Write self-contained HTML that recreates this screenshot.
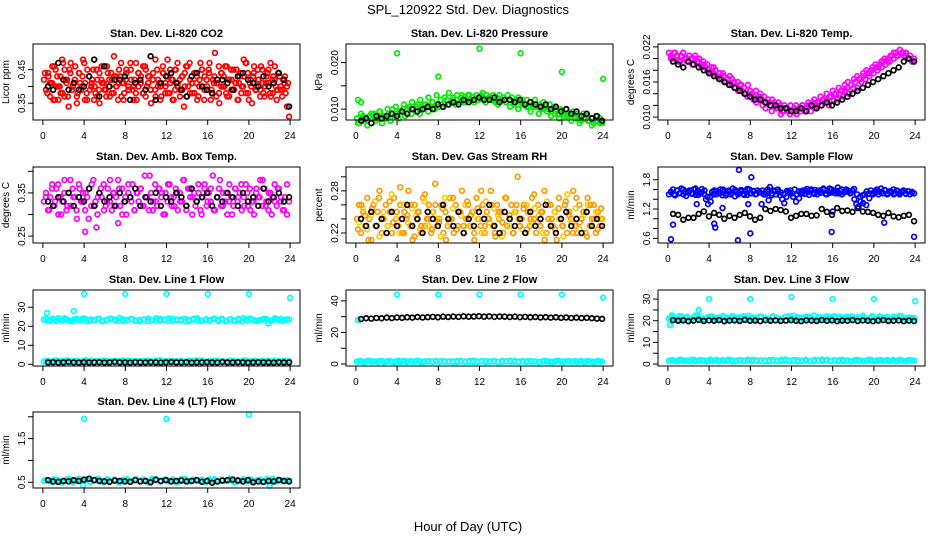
<!DOCTYPE html>
<html><head><meta charset="utf-8"><style>
body{margin:0;background:#fff}
svg{display:block;font-family:"Liberation Sans",sans-serif}
</style></head><body>
<svg id="chart" width="936" height="540" viewBox="0 0 936 540">
<text x="468" y="14" text-anchor="middle" font-size="13">SPL_120922  Std. Dev. Diagnostics</text>
<text x="468" y="531" text-anchor="middle" font-size="13">Hour of Day (UTC)</text>
</svg>
<script>
// ---- data ----
const xTicks = [0,4,8,12,16,20,24];
const co2Red = [0.42,0.39,0.44,0.37,0.41,0.46,0.40,0.36,0.43,0.38,0.45,0.41,0.34,0.47,0.40,0.42,0.37,0.44,0.39,0.48,0.41,0.36,0.43,0.40,0.45,0.38,0.42,0.35,0.46,0.41,0.39,0.44,0.37,0.42,0.49,0.40,0.36,0.43,0.41,0.38,0.45,0.40,0.47,0.39,0.42,0.36,0.44,0.41,0.38,0.46,0.40,0.43,0.35,0.42,0.39,0.45,0.41,0.37,0.44,0.40,0.48,0.38,0.42,0.36,0.45,0.41,0.39,0.43,0.34,0.46,0.40,0.42,0.38,0.44,0.41,0.37,0.47,0.40,0.43,0.39,0.45,0.36,0.42,0.50,0.41,0.38,0.44,0.40,0.46,0.37,0.42,0.39,0.45,0.41,0.36,0.43,0.40,0.48,0.38,0.44,0.41,0.35,0.46,0.40,0.42,0.39,0.45,0.37,0.43,0.41,0.47,0.38,0.42,0.36,0.44,0.40,0.39,0.43,0.34,0.31];
const co2Red2 = [0.39,0.43,0.41,0.36,0.45,0.40,0.38,0.47,0.42,0.37,0.44,0.40,0.46,0.38,0.41,0.43,0.36,0.45,0.39,0.42,0.40,0.37,0.44,0.41,0.39,0.46,0.42,0.38,0.43,0.40,0.45,0.37,0.41,0.44,0.39,0.42,0.36,0.47,0.40,0.43,0.38,0.45,0.41,0.39,0.44,0.37,0.42,0.40,0.46,0.38,0.43,0.41,0.36,0.45,0.40,0.42,0.39,0.44,0.37,0.47,0.41,0.38,0.43,0.40,0.45,0.36,0.42,0.44,0.39,0.41,0.37,0.46,0.40,0.43,0.38,0.42,0.45,0.39,0.41,0.36,0.44,0.40,0.47,0.38,0.42,0.43,0.39,0.45,0.37,0.41,0.40,0.44,0.38,0.42,0.46,0.39,0.43,0.37,0.41,0.40];
const co2Red3 = [0.44,0.38,0.41,0.46,0.36,0.43,0.40,0.48,0.37,0.42,0.45,0.39,0.41,0.35,0.44,0.40,0.47,0.38,0.43,0.41,0.36,0.45,0.39,0.42,0.46,0.37,0.40,0.44,0.38,0.43,0.41,0.47,0.36,0.42,0.39,0.45,0.40,0.38,0.44,0.41,0.46,0.37,0.43,0.39,0.42,0.48,0.40,0.36,0.44,0.41,0.38,0.45,0.42,0.39,0.47,0.37,0.43,0.40,0.46,0.38,0.41,0.44,0.36,0.42,0.45,0.39,0.40,0.47,0.38,0.43,0.41,0.35,0.44,0.40,0.46,0.37,0.42,0.39,0.45,0.41,0.38,0.43,0.47,0.36,0.40,0.44,0.39,0.42,0.46,0.38,0.41,0.45,0.37,0.43,0.40,0.44,0.39,0.42,0.38,0.41];
const co2Black = [0.40,0.39,0.47,0.42,0.39,0.41,0.39,0.40,0.43,0.48,0.37,0.46,0.40,0.42,0.42,0.43,0.36,0.41,0.42,0.39,0.49,0.36,0.41,0.43,0.44,0.41,0.39,0.37,0.43,0.44,0.40,0.39,0.38,0.42,0.42,0.41,0.39,0.43,0.44,0.42,0.41,0.40,0.43,0.40,0.41,0.44,0.42,0.34];
const pressGreenMilli = [8,7,9,7.5,8,6.5,8.5,7,9,7.5,8,9.5,7,8.5,8,9,7.5,10,8.5,9,8,9.5,10,8.5,9,10.5,9,10,9.5,11,9,10.5,10,11,9.5,10.5,11.5,10,11,10.5,12,10.5,11,12,11,11.5,12.5,11,12,11.5,13,11.5,12,13,12,12.5,11.5,13,12,12.5,13.5,12,13,12.5,12,13,11.5,12.5,13,12,12.5,11.5,13,12,12.5,11,12,12.5,11.5,12,11,12,10.5,11.5,11,12,10.5,11,10,11.5,10.5,10,11,9.5,10.5,10,9,10,9.5,8.5,10,9,8.5,9.5,8,9,8.5,7.5,9,8,8.5,7.5,8,7,8.5,7.5,8,7];
const pressGreen2Milli = [7,8.5,7.5,9,8,9.5,8.5,10,9,10.5,9.5,11,10,11.5,10.5,12,11,12.5,11.5,13,12,12.5,13.5,12,13,12.5,11.5,13,12.5,12,13,11.5,12.5,12,11,12,11.5,10.5,11.5,10,11,10.5,9.5,10.5,9,10,9.5,8.5,9,8,9,8.5,7.5,8.5,7,8,7.5,6.5,7.5,7];
const pressOutHours = [0.2,0.5,4,8,12,16,20,24];
const pressOutMilli = [12,11.5,22,17,23,22,18,16.5];
const pressBlackMilli = [7.5,8,7,8.5,8,8.5,9,8.5,9.5,9,10,9.5,10,10.5,10,11,10.5,11,11.5,11,12,11.5,12,12.5,12,12,12.5,11.5,12,12,11.5,12,11,11.5,11,10.5,11,10,10.5,9.5,10,9,9.5,8.5,9,8,8.5,7.5];
const tempMagMilli = [21,20.5,20,21,20.5,19.5,20.5,21,20,19.5,20.5,20,19,20.5,19.5,20,19,19.5,18.5,19,18,18.5,17.5,18,17,17.5,16.5,17,16,16.5,17,15.5,16,15,16,15.5,14.5,15,14,15.5,14.5,14,13.5,14.5,13,14,13,13.5,12.5,13,12,13,12.5,11.5,12.5,12,11,12,11.5,11,12,11,11.5,10.5,11.5,11,12,11,11.5,12,11,12.5,11.5,12,12.5,12,13,12.5,13,12,13.5,13,14,13,14,14.5,13.5,14.5,15,14,15.5,15,16,15,16.5,16,17,16.5,17.5,17,18,17.5,18.5,18,19,18.5,19.5,19,20,19.5,20.5,20,21,20.5,21.5,21,20.5,21,20,20.5,19.5,20];
const tempMag2Milli = [20,21,20.5,19.5,21,20,20.5,19,20,19.5,18.5,19,18,17.5,18.5,17,16.5,17.5,16,15.5,16.5,15,14.5,15.5,14,13.5,14.5,13,12.5,13.5,12,11.5,12.5,11,12,11.5,10.5,11,11.5,10.5,11,12,11.5,12,11,12.5,12,13,12.5,13.5,13,14,13.5,14.5,14,15,14.5,15.5,16,15.5,16.5,17,16.5,17.5,18,17.5,18.5,19,18.5,19.5,20,19.5,20.5,21,20.5,21.5,21,20.5,20,19.5];
const tempBlackMilli = [19.5,19,18.5,19.5,19,18.5,18,17.5,17,16.5,16,15.5,15,14.5,14,13.5,13,13,12.5,12,12,11.5,11.5,11,11,11.5,11,12,11.5,12,12.5,12,12.5,13,13.5,14,14.5,15,15.5,16,16.5,17,17.5,18,18.5,19.5,20,19.5];
const ambMagCenti = [33,35,31,34,37,32,36,30,34,33,38,31,35,32,36,34,29,37,33,35,31,34,36,32,38,33,30,35,34,37,32,36,33,31,35,34,38,32,36,33,30,35,34,37,31,35,33,36,32,39,34,31,35,33,37,32,36,34,30,35,33,37,32,34,36,31,35,33,38,32,36,34,30,35,33,37,31,34,36,32,35,33,39,31,34,36,32,35,33,30,37,34,32,36,33,35,31,34,37,32,36,33,30,35,34,38,32,36,33,31,35,34,37,32,36,33,31,34,30,33];
const ambMag2Centi = [34,31,36,33,37,30,35,32,38,34,31,36,33,35,29,37,32,34,36,31,33,38,35,32,36,30,34,37,33,31,35,36,32,34,39,31,33,36,35,30,37,34,32,35,33,38,31,36,34,32,35,30,37,33,36,31,34,38,32,35,33,30,36,34,37,32,35,31,33,36,34,38,32,35,30,33,36,34,31,37];
const ambOutHours = [4.1,5.2,7.3];
const ambOutCenti = [26,27,28];
const ambBlackCenti = [33,32,34,33,35,32,34,33,36,32,35,33,34,32,35,33,34,36,32,34,33,35,32,34,33,35,34,32,36,33,34,35,32,34,33,35,34,32,35,33,34,32,36,33,34,35,33,34];
const rhOrangeCenti = [24,26,22,25,23,27,24,21,26,23,25,28,22,24,26,23,25,22,27,24,23,26,22,25,24,28,23,21,26,24,25,22,27,23,24,26,22,25,29,23,24,26,22,25,23,27,24,22,26,23,25,28,22,24,26,23,25,21,27,24,23,26,22,25,24,28,23,22,26,24,25,22,27,23,24,26,22,25,30,23,24,26,22,25,23,27,24,22,26,23,25,28,22,24,26,23,25,21,27,24,23,26,22,25,24,28,23,22,26,24,25,22,27,23,24,26,22,25,23,24];
const rhOrange2Centi = [23.5,25.5,22.5,24.5,26.5,21.5,25,23,27.5,24,22,26,23.5,25.5,24.5,22.5,26.5,23,25,24,21.5,27,23.5,25.5,22.5,24.5,26,23,25,24,22,26.5,23.5,25.5,24.5,21.5,27,23,25,24,22.5,26,23.5,25.5,24.5,22,26.5,23,25,24,21.5,27.5,23.5,25.5,22.5,24.5,26,23,25,24];
const rh3Centi = [22.5,26,24.5,21,25.5,23,27,24,22,26.5,23.5,25,28.5,22,24.5,26,21.5,25,23,27.5,24,22.5,26,23.5,25.5,21,24,27,22.5,25,23,26.5,24.5,22,25.5,28,23,24,26,21.5,25,23.5,27,24.5,22,26,23,25.5,22.5,24,27.5,23.5,25,21,26,24,22.5,25.5,23,26.5,24.5,22,27,23.5,25,21.5,26,24,22.5,25.5];
const rhBlackCenti = [24,23,25,23,24,22,25,23,24,26,23,24,22,25,24,23,26,24,23,25,22,24,23,25,24,26,23,22,25,24,23,24,22,25,23,24,26,23,22,24,25,23,24,22,25,23,24,23];
const flowBlueCenti = [150,155,160,148,158,152,162,150,156,154,158,152,160,149,157,153,161,151,140,130,145,155,158,150,154,160,148,156,152,158,150,162,146,155,153,159,151,157,149,160,152,156,150,158,154,130,150,155,160,165,152,158,150,156,148,140,132,145,155,158,152,160,150,156,154,158,151,161,149,157,153,159,150,158,155,162,151,157,153,160,156,152,164,158,150,154,160,156,152,158,140,130,125,135,148,150,156,152,158,150,154,160,155,162,152,158,150,156,154,160,152,157,150,155,158,152,156,150,155,152];
const flowBlue2Centi = [155,150,158,153,160,147,156,151,162,149,154,158,145,135,150,157,152,160,148,155,153,159,150,156,149,161,152,157,151,155,158,150,138,148,156,160,154,150,157,153,145,135,142,152,158,155,160,151,156,153,159,150,162,154,157,152,160,155,158,153,161,150,145,132,128,142,152,157,150,155,159,152,156,150,158,153,157,151,156,154];
const flowOutHours = [0.3,0.5,2.8,4.5,4.6,5.3,6.8,6.9,7.8,8,8.1,15.9,16,21,23.9];
const flowOutVals = [0.58,0.88,1.3,0.9,0.82,1.22,0.56,2.0,1.3,0.7,1.85,0.73,1.15,0.92,0.63];
const flowBlack = [1.10,1.08,0.98,1.02,1.02,1.10,1.15,1.05,1.12,1.08,1.00,1.06,1.02,1.08,1.12,1.05,0.98,1.02,1.20,1.16,1.20,1.18,1.15,1.02,1.06,1.10,1.10,1.06,1.07,1.20,1.14,1.08,1.22,1.16,1.17,1.14,1.22,1.15,1.14,1.12,1.08,1.06,1.12,1.05,1.03,1.06,1.08,0.95];
const line1High = [23.5,23,24,22.8,23.6,24.2,23.1,22.7,23.8,23.3,24,22.9,23.4,23.9,22.6,23.2,24.1,23.5,22.8,23.7,23.1,24,22.9,23.4,23.6,22.7,23.3,24.2,23,23.5,22.8,23.9,23.2,23.6,22.6,23.4,24,23.1,22.9,23.7,23.3,24.1,22.8,23.5,23,23.8,22.7,23.4,24.2,23.1,23.6,22.9,23.3,24,21.5,23.2,23.7,23.9,23.4,23.6];
const line1High2 = [24,22.9,23.5,24.3,23,23.7,22.8,23.9,23.3,24.1,22.7,23.6,23.2,24,22.9,23.5,23.8,23.1,24.2,22.8,23.4,23.9,23.1,22.7,23.6,24,23.2,22.9,23.8,23.4,24.1,22.8,23.5,23.1,23.9,22.7,23.6,24.2,23,23.4,22.9,23.8,23.3,24,22.8,23.5,23.1,23.9,22.6,23.7,24.1,23.2,22.9,23.5,23.8,23,24.2,23.3,22.8,23.6];
const lowFlow = [1.5,1.8,1.3,2,1.6,1.4,1.9,1.5,1.7,1.2,2.1,1.6,1.4,1.8,1.5,1.9,1.3,1.7,1.6,2,1.4,1.8,1.5,1.7,1.3,1.9,1.6,1.5,2.1,1.4,1.7,1.8,1.5,1.6,1.3,1.9,1.7,1.5,2,1.4,1.6,1.8,1.5,1.7,1.3,1.9,1.6,1.4,2,1.5,1.7,1.8,1.6,1.4,1.9,1.5,1.7,1.3,1.8,1.6];
const lowFlow2 = [1.7,1.4,1.9,1.5,1.6,2,1.3,1.8,1.5,1.7,1.4,1.9,1.6,1.5,2,1.3,1.7,1.8,1.4,1.6,1.9,1.5,1.7,1.3,1.8,1.6,1.4,2,1.5,1.7,1.8,1.3,1.6,1.9,1.5,1.4,1.7,2.1,1.6,1.5,1.8,1.4,1.9,1.6,1.3,1.7,1.8,1.5,1.6,1.9,1.4,1.7,1.5,1.8,1.6,1.3,1.9,1.5,1.7,1.6];
const line1OutHours = [0.4,3,4,8,12,16,20,24];
const line1OutVals = [27,28,37,37,37,37,37,35];
const line1Black = [1,1.1,0.9,1,1.2,1,0.9,1.1,1,1,1.1,0.9,1,1.2,1,1,0.9,1.1,1,1,1.1,1,0.9,1,1.2,1,1,1.1,0.9,1,1,1.1,1,0.9,1.2,1,1,1.1,1,0.9,1,1.1,1,1,0.9,1.1,1,1];
const line2OutHours = [0.2,4,8,12,16,20,24];
const line2OutVals = [28,44,44,44,44,44,42];
const line2Black = [28.5,29,28.8,29.2,29,29.4,29.1,29.5,29.3,29.6,29.4,29.8,29.5,29.7,29.9,29.6,30,29.8,30.1,29.9,30.2,30,30.1,30.3,30,30.2,29.9,30.1,30,29.8,30,29.7,29.9,29.6,29.8,29.5,29.7,29.4,29.6,29.3,29.5,29.2,29.4,29.1,29.3,29,28.8,28.6];
const line3High = [21,21.8,20.5,22,21.3,20.8,21.6,22.3,20.6,21.2,21.9,20.9,21.5,22.1,20.7,21.4,21.7,20.8,22.2,21.1,21.6,20.6,21.9,21.3,20.9,22,21.4,20.7,21.8,21.2,22.3,20.8,21.5,21.1,21.9,20.6,21.7,21.3,22.1,20.9,21.5,21.8,20.7,21.2,22,21.4,20.8,21.6,21.1,22.2,20.9,21.7,21.3,20.6,21.9,21.4,22.1,20.8,21.5,21.2];
const line3High2 = [21.5,20.7,22.1,21,21.8,20.6,22.4,21.3,20.9,21.7,22,21.2,20.8,21.9,21.4,22.2,20.7,21.6,21.1,22.3,20.9,21.5,21.8,21.2,20.6,22,21.4,20.8,21.7,22.2,21,21.6,20.9,21.9,21.3,22.4,20.7,21.5,21.1,21.8,22.1,20.8,21.4,21.9,21.2,20.6,21.7,22.3,21,21.5,20.9,22,21.3,21.8,20.7,21.6,22.2,21.1,21.4,21];
const line3OutHours = [0.2,0.4,3,4,8,12,16,20,24];
const line3OutVals = [18,22.5,25,30,30,31,30,30,29];
const line3Black = [20.3,20,20.2,19.8,20.1,20.4,19.9,20.2,20,20.3,19.8,20.1,20.2,19.9,20.4,20,20.1,19.8,20.3,20,20.2,19.9,20.1,20.3,20,19.8,20.2,20.1,19.9,20.3,20,20.2,19.8,20.1,20,20.3,19.9,20.2,20,19.8,20.1,20.3,19.9,20,20.2,19.8,20.1,19.9];
const line4Cyan = [0.53,0.55,0.51,0.56,0.52,0.54,0.57,0.5,0.55,0.53,0.56,0.52,0.54,0.58,0.51,0.55,0.53,0.56,0.5,0.54,0.57,0.52,0.55,0.53,0.56,0.51,0.54,0.57,0.52,0.55,0.53,0.56,0.5,0.54,0.58,0.52,0.55,0.53,0.56,0.51,0.54,0.57,0.52,0.55,0.53,0.56,0.5,0.54,0.57,0.52,0.55,0.53,0.56,0.51,0.54,0.58,0.52,0.55,0.53,0.54];
const line4Cyan2 = [0.55,0.52,0.57,0.53,0.5,0.56,0.54,0.52,0.58,0.53,0.55,0.51,0.56,0.54,0.52,0.57,0.53,0.55,0.5,0.56,0.54,0.52,0.57,0.53,0.55,0.51,0.58,0.54,0.52,0.56,0.53,0.55,0.5,0.57,0.54,0.52,0.56,0.53,0.55,0.51,0.57,0.54,0.52,0.56,0.53,0.58,0.5,0.55,0.54,0.52,0.56,0.53,0.55,0.51,0.57,0.54,0.52,0.56,0.53,0.55];
const line4OutHours = [4,12,20,3.9,22];
const line4OutVals = [1.95,1.95,2.05,0.43,0.42];
const line4Black = [0.55,0.52,0.51,0.53,0.52,0.55,0.53,0.56,0.58,0.55,0.53,0.52,0.51,0.54,0.53,0.52,0.51,0.55,0.52,0.53,0.5,0.56,0.53,0.55,0.52,0.53,0.54,0.52,0.53,0.55,0.51,0.53,0.49,0.52,0.54,0.55,0.56,0.54,0.52,0.55,0.5,0.52,0.51,0.53,0.52,0.55,0.53,0.52];

// ---- drawing ----
const NS = "http://www.w3.org/2000/svg";
const svg = document.getElementById('chart');
const COLS = [33, 346, 658], ROWS = [44, 167, 290, 412], W = 267, H = 76;
function mk(tag, attrs, parent){ const e = document.createElementNS(NS, tag); for (const k in attrs) e.setAttribute(k, attrs[k]); parent.appendChild(e); return e; }
function spread(n, t0, t1){ const a=[]; for(let i=0;i<n;i++) a.push(t0 + i*(t1-t0)/(n-1)); return a; }

function panel(p){
  const L = COLS[p.col], T = ROWS[p.row];
  const g = mk('g', {}, svg);
  
  
  const xs = h => L + (h + 0.96) / 25.92 * W;
  const ys = v => T + H - (v - p.ymin) / (p.ymax - p.ymin) * H;
  const t = mk('text', {x: L + W/2, y: T - 7, 'text-anchor':'middle', 'font-size':11, 'font-weight':'bold'}, g);
  t.textContent = p.title;
  
  
  const yl = mk('text', {transform:`translate(${L-24},${T+H/2}) rotate(-90)`, 'text-anchor':'middle', 'font-size':10}, g);
  yl.textContent = p.ylab;
  
  
  mk('line', {x1: xs(0), x2: xs(24), y1: T+H, y2: T+H, stroke:'#000'}, g);
  xTicks.forEach(h => {
    mk('line', {x1: xs(h), x2: xs(h), y1: T+H, y2: T+H+5, stroke:'#000'}, g);
    const tx = mk('text', {x: xs(h), y: T+H+19, 'text-anchor':'middle', 'font-size':10}, g);
    tx.textContent = h;
    
    
  });
  const yt = p.yticks;
  mk('line', {x1: L, x2: L, y1: ys(yt[0]), y2: ys(yt[yt.length-1]), stroke:'#000'}, g);
  yt.forEach((v, i) => {
    mk('line', {x1: L-5, x2: L, y1: ys(v), y2: ys(v), stroke:'#000'}, g);
    if (i % p.every === 0) {
      const ty = mk('text', {transform:`translate(${L-8},${ys(v)}) rotate(-90)`, 'text-anchor':'middle', 'font-size':10}, g);
      ty.textContent = v.toFixed(p.dec);
      
      
    }
  });
  p.series.forEach(s => {
    const sg = mk('g', {fill:'none', stroke: s.color, 'stroke-width': 1.7}, g);
    
    
    const hrs = s.hours || spread(s.vals.length, s.t0 ?? 0.1, s.t1 ?? 23.9);
    s.vals.forEach((v, i) => {
      const c = mk('circle', {cx: xs(hrs[i]), cy: ys(v * (s.scale || 1)), r: 2.4}, sg);
      
      
    });
  });
  const box = mk('rect', {x: L, y: T, width: W, height: H, fill:'none', stroke:'#000'}, g);
  
  
}

const BLK = {t0:0.5, t1:23.9};
panel({name:'panel-co2', col:0,row:0,title:'Stan. Dev. Li-820 CO2', ylab:'Licor ppm', ymin:0.30, ymax:0.5265, yticks:[0.35,0.40,0.45], every:2, dec:2,
  series:[{name:'co2-red',color:'#ff0000',vals:co2Red},{name:'co2-red-b',color:'#ff0000',vals:co2Red2,t0:0.3,t1:23.7},{name:'co2-red-c',color:'#ff0000',vals:co2Red3,t0:0.2,t1:23.8},{name:'co2-black',color:'#000',vals:co2Black,...BLK}]});
panel({name:'panel-pressure', col:1,row:0,title:'Stan. Dev. Li-820 Pressure', ylab:'kPa', ymin:0.00766, ymax:0.024, yticks:[0.010,0.015,0.020], every:2, dec:3,
  series:[{name:'pressure-green',color:'#00ee00',vals:pressGreenMilli,scale:0.001},{name:'pressure-green-b',color:'#00ee00',vals:pressGreen2Milli,scale:0.001,t0:0.3,t1:23.7},{name:'pressure-outliers',color:'#00ee00',vals:pressOutMilli,hours:pressOutHours,scale:0.001},{name:'pressure-black',color:'#000',vals:pressBlackMilli,scale:0.001,...BLK}]});
panel({name:'panel-temp', col:2,row:0,title:'Stan. Dev. Li-820 Temp.', ylab:'degrees C', ymin:0.0095, ymax:0.0225, yticks:[0.010,0.012,0.014,0.016,0.018,0.020,0.022], every:3, dec:3,
  series:[{name:'temp-magenta',color:'#ff00ff',vals:tempMagMilli,scale:0.001},{name:'temp-magenta-b',color:'#ff00ff',vals:tempMag2Milli,scale:0.001,t0:0.3,t1:23.7},{name:'temp-black',color:'#000',vals:tempBlackMilli,scale:0.001,...BLK}]});
panel({name:'panel-ambient', col:0,row:1,title:'Stan. Dev. Amb. Box Temp.', ylab:'degrees C', ymin:0.234, ymax:0.41, yticks:[0.25,0.30,0.35,0.40], every:2, dec:2,
  series:[{name:'amb-magenta',color:'#ff00ff',vals:ambMagCenti,scale:0.01},{name:'amb-magenta-b',color:'#ff00ff',vals:ambMag2Centi,scale:0.01,t0:0.3,t1:23.7},{name:'amb-outliers',color:'#ff00ff',vals:ambOutCenti,hours:ambOutHours,scale:0.01},{name:'amb-black',color:'#000',vals:ambBlackCenti,scale:0.01,...BLK}]});
panel({name:'panel-rh', col:1,row:1,title:'Stan. Dev. Gas Stream RH', ylab:'percent', ymin:0.2057, ymax:0.314, yticks:[0.22,0.24,0.26,0.28,0.30], every:3, dec:2,
  series:[{name:'rh-orange',color:'#ff9900',vals:rhOrangeCenti,scale:0.01},{name:'rh-yellow',color:'#ffcc00',vals:rhOrange2Centi,scale:0.01,t0:0.3,t1:23.7},{name:'rh-orange-b',color:'#ff9900',vals:rh3Centi,scale:0.01,t0:0.2,t1:23.8},{name:'rh-black',color:'#000',vals:rhBlackCenti,scale:0.01,...BLK}]});
panel({name:'panel-sample-flow', col:2,row:1,title:'Stan. Dev. Sample Flow', ylab:'ml/min', ymin:0.504, ymax:2.06, yticks:[0.6,0.8,1.0,1.2,1.4,1.6,1.8], every:3, dec:1,
  series:[{name:'flow-blue',color:'#0000ff',vals:flowBlueCenti,scale:0.01},{name:'flow-blue-b',color:'#0000ff',vals:flowBlue2Centi,scale:0.01,t0:0.3,t1:23.7},{name:'flow-outliers',color:'#0000ff',vals:flowOutVals,hours:flowOutHours},{name:'flow-black',color:'#000',vals:flowBlack,...BLK}]});
panel({name:'panel-line1', col:0,row:2,title:'Stan. Dev. Line 1 Flow', ylab:'ml/min', ymin:-0.9, ymax:39.1, yticks:[0,10,20,30], every:1, dec:0,
  series:[{name:'line1-cyan-high',color:'#00ffff',vals:line1High},{name:'line1-cyan-high-b',color:'#00ffff',vals:line1High2,t0:0.3,t1:23.7},{name:'line1-cyan-low',color:'#00ffff',vals:lowFlow},{name:'line1-cyan-low-b',color:'#00ffff',vals:lowFlow2,t0:0.3,t1:23.7},{name:'line1-outliers',color:'#00ffff',vals:line1OutVals,hours:line1OutHours},{name:'line1-black',color:'#000',vals:line1Black,...BLK}]});
panel({name:'panel-line2', col:1,row:2,title:'Stan. Dev. Line 2 Flow', ylab:'ml/min', ymin:-1.25, ymax:46.9, yticks:[0,10,20,30,40], every:2, dec:0,
  series:[{name:'line2-cyan-low',color:'#00ffff',vals:lowFlow},{name:'line2-cyan-low-b',color:'#00ffff',vals:lowFlow2,t0:0.3,t1:23.7},{name:'line2-outliers',color:'#00ffff',vals:line2OutVals,hours:line2OutHours},{name:'line2-black',color:'#000',vals:line2Black,...BLK}]});
panel({name:'panel-line3', col:2,row:2,title:'Stan. Dev. Line 3 Flow', ylab:'ml/min', ymin:-0.9, ymax:34.2, yticks:[0,5,10,15,20,25,30], every:2, dec:0,
  series:[{name:'line3-cyan-high',color:'#00ffff',vals:line3High},{name:'line3-cyan-high-b',color:'#00ffff',vals:line3High2,t0:0.3,t1:23.7},{name:'line3-cyan-low',color:'#00ffff',vals:lowFlow},{name:'line3-cyan-low-b',color:'#00ffff',vals:lowFlow2,t0:0.3,t1:23.7},{name:'line3-outliers',color:'#00ffff',vals:line3OutVals,hours:line3OutHours},{name:'line3-black',color:'#000',vals:line3Black,...BLK}]});
panel({name:'panel-line4', col:0,row:3,title:'Stan. Dev. Line 4 (LT) Flow', ylab:'ml/min', ymin:0.369, ymax:2.108, yticks:[0.5,1.0,1.5,2.0], every:2, dec:1,
  series:[{name:'line4-cyan',color:'#00ffff',vals:line4Cyan},{name:'line4-cyan-b',color:'#00ffff',vals:line4Cyan2,t0:0.3,t1:23.7},{name:'line4-outliers',color:'#00ffff',vals:line4OutVals,hours:line4OutHours},{name:'line4-black',color:'#000',vals:line4Black,...BLK}]});
</script>
</body></html>
